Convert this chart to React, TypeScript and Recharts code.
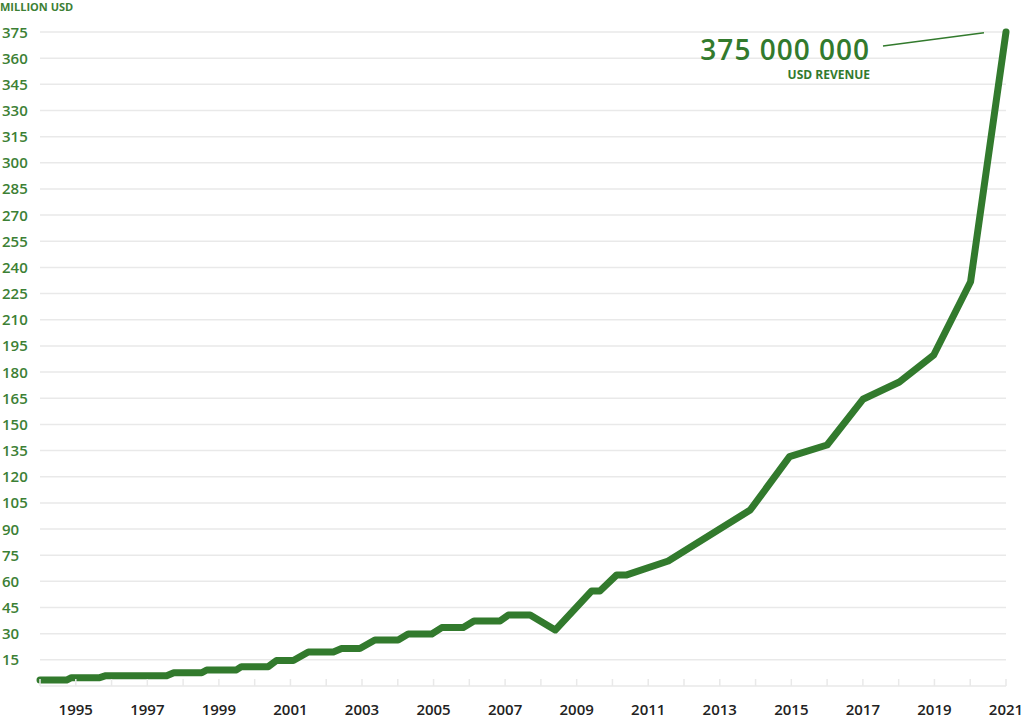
import * as React from "react";
import {
  CartesianGrid,
  Line,
  LineChart,
  ReferenceDot,
  XAxis,
  YAxis,
} from "recharts";

// revenue in million USD, x is fractional year
const YEARS = [
  1994.0, 1994.74, 1994.88, 1995.67, 1995.84, 1997.54, 1997.74, 1998.52,
  1998.66, 1999.49, 1999.63, 2000.38, 2000.61, 2001.08, 2001.5, 2002.2,
  2002.43, 2002.94, 2003.36, 2004.01, 2004.29, 2004.95, 2005.23, 2005.83,
  2006.13, 2006.86, 2007.09, 2007.7, 2008.4, 2009.42, 2009.65, 2010.12,
  2010.4, 2011.56, 2013.85, 2014.95, 2016.0, 2017.0, 2018.02, 2018.98,
  2020.01, 2021.0,
];

const REVENUE = [
  3.4, 3.4, 4.8, 4.8, 5.9, 5.9, 7.6, 7.6,
  9.2, 9.2, 11.1, 11.1, 14.6, 14.6, 19.5, 19.5,
  21.5, 21.5, 26.4, 26.4, 29.8, 29.8, 33.5, 33.5,
  37.3, 37.3, 40.7, 40.7, 32.1, 54.5, 54.5, 63.7,
  63.7, 71.7, 100.9, 131.5, 138.2, 164.4, 174.3, 189.8,
  231.8, 375,
];

const X_TICKS = [
  1994, 1995, 1996, 1997, 1998, 1999, 2000, 2001, 2002, 2003, 2004, 2005,
  2006, 2007, 2008, 2009, 2010, 2011, 2012, 2013, 2014, 2015, 2016, 2017,
  2018, 2019, 2020, 2021,
];

const Y_TICKS = [
  0, 15, 30, 45, 60, 75, 90, 105, 120, 135, 150, 165, 180, 195, 210, 225,
  240, 255, 270, 285, 300, 315, 330, 345, 360, 375,
];

const HEADLINE = "375 000 000";
const HEADLINE_SUB = "USD REVENUE";

const GREEN = "#327a2d";
const LABEL_GREEN = "#3c8035";
const GRID = "#e9e9e9";
const FONT = "'Open Sans', 'Noto Sans', sans-serif";

const data = YEARS.map((year, i) => ({ year, revenue: REVENUE[i] }));

function YTick(props: any) {
  const { y, payload } = props;
  if (payload.value === 0) return null;
  return (
    <text
      x={2}
      y={y}
      dy={5.5}
      textAnchor="start"
      fill={LABEL_GREEN}
      fontSize={15}
      fontWeight={600}
      fontFamily={FONT}
    >
      {payload.value}
    </text>
  );
}

function XTick(props: any) {
  const { x, y, payload } = props;
  const showLabel = payload.value % 2 === 1;
  return (
    <g>
      <line x1={x} x2={x} y1={y - 7} y2={y} stroke={GRID} strokeWidth={1.5} />
      {showLabel && (
        <text
          x={x}
          y={y + 28.5}
          textAnchor="middle"
          fill="#222"
          fontSize={15}
          fontWeight={600}
          fontFamily={FONT}
        >
          {payload.value}
        </text>
      )}
    </g>
  );
}

function Callout(props: any) {
  const { cx, cy } = props;
  return (
    <g>
      <line
        x1={cx - 123}
        y1={cy + 14}
        x2={cx - 22}
        y2={cy + 0.7}
        stroke={GREEN}
        strokeWidth={1.5}
      />
      <text
        x={cx - 136}
        y={cy + 28}
        textAnchor="end"
        fill={GREEN}
        fontSize={28}
        fontWeight={600}
        letterSpacing={1}
        fontFamily={FONT}
      >
        {HEADLINE}
      </text>
      <text
        x={cx - 136}
        y={cy + 47}
        textAnchor="end"
        fill={GREEN}
        fontSize={12}
        fontWeight={700}
        fontFamily={FONT}
      >
        {HEADLINE_SUB}
      </text>
    </g>
  );
}

export default function App() {
  const last = data[data.length - 1];
  return (
    <div
      style={{
        position: "absolute",
        left: 0,
        top: 0,
        width: 1024,
        height: 718,
        background: "#fff",
        fontFamily: FONT,
      }}
    >
      <div
        style={{
          position: "absolute",
          left: 0,
          top: 1,
          fontSize: 11,
          lineHeight: "11px",
          fontWeight: 700,
          color: LABEL_GREEN,
        }}
      >
        MILLION USD
      </div>
      <LineChart
        width={1024}
        height={718}
        data={data}
        margin={{ top: 32, right: 18, bottom: 0, left: 0 }}
      >
        <CartesianGrid vertical={false} stroke={GRID} strokeWidth={1.5} />
        <XAxis
          dataKey="year"
          type="number"
          domain={[1994, 2021]}
          ticks={X_TICKS}
          interval={0}
          height={32}
          axisLine={false}
          tickLine={false}
          tickSize={0}
          tickMargin={0}
          tick={(p: any) => <XTick {...p} />}
        />
        <YAxis
          type="number"
          domain={[0, 375]}
          ticks={Y_TICKS}
          interval={0}
          width={40}
          axisLine={false}
          tickLine={false}
          tick={(p: any) => <YTick {...p} />}
        />
        <Line
          type="linear"
          dataKey="revenue"
          stroke={GREEN}
          strokeWidth={7}
          strokeLinecap="round"
          strokeLinejoin="round"
          dot={false}
          activeDot={false}
          isAnimationActive={false}
        />
        <ReferenceDot
          x={last.year}
          y={last.revenue}
          r={0}
          shape={(p: any) => <Callout {...p} />}
        />
      </LineChart>
    </div>
  );
}
